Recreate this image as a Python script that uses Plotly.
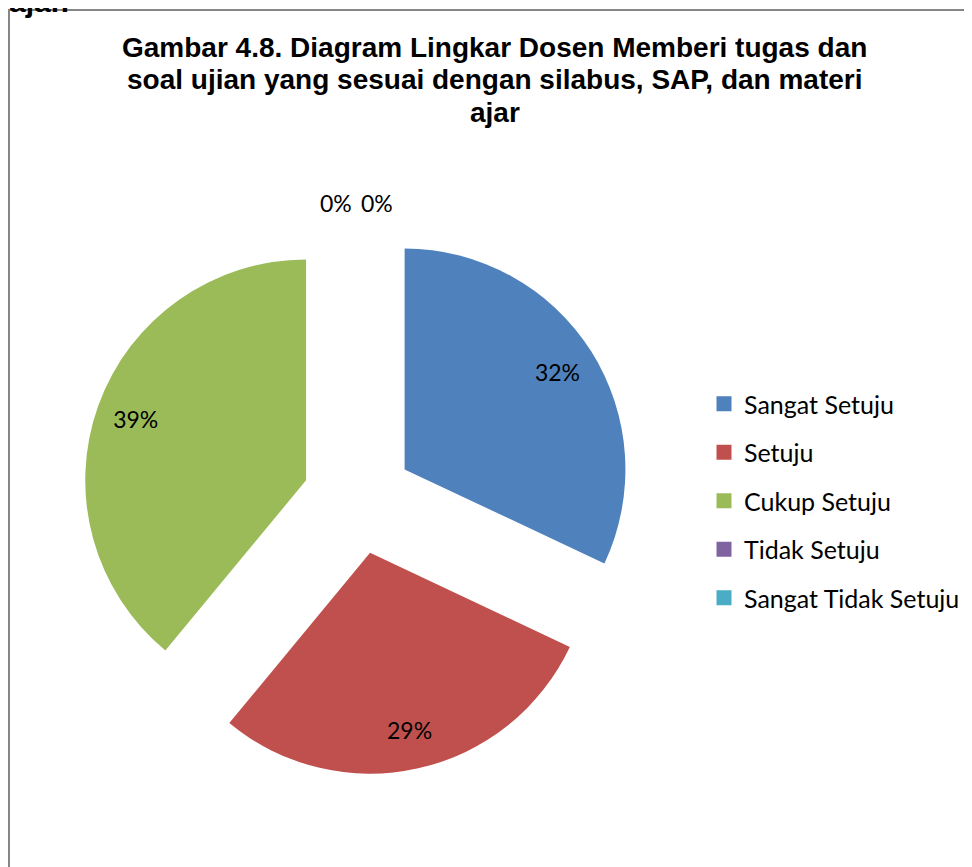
import plotly.graph_objects as go

categories = ["Sangat Setuju", "Setuju", "Cukup Setuju", "Tidak Setuju", "Sangat Tidak Setuju"]
values = [32, 29, 39, 0, 0]
colors = ["#4F81BD", "#C0504D", "#9BBB59", "#8064A2", "#4BACC6"]
title_lines = ["Gambar 4.8. Diagram Lingkar Dosen Memberi tugas dan",
               "soal ujian yang sesuai dengan silabus, SAP, dan materi",
               "ajar"]
above_text = "ajar."

W, H = 972, 867
OFF = 8  # page body margin of the browser


def px(x):
    return (x - OFF) / W


def py(y):
    return 1 - (y - OFF) / H


total = sum(values)
textpos = ["inside" if v > 0 else "none" for v in values]
pie_domain = dict(x=[px(82), px(634)], y=[py(775), py(223)])
pulls = [0.25] * len(values)

fig = go.Figure()
# coloured slices
fig.add_trace(go.Pie(
    labels=categories, values=values, sort=False, direction="clockwise", rotation=0,
    marker=dict(colors=colors, line=dict(width=0)),
    pull=pulls, textinfo="none", domain=pie_domain, showlegend=False, hoverinfo="label+percent",
))
# transparent ring overlay that carries the percentage labels near the rim
fig.add_trace(go.Pie(
    labels=categories, values=values, sort=False, direction="clockwise", rotation=0,
    marker=dict(colors=["rgba(0,0,0,0)"] * len(values), line=dict(width=0)),
    hole=0.64, pull=pulls,
    texttemplate="%{percent:.0%}", textposition=textpos, insidetextorientation="horizontal",
    textfont=dict(family="Lato", size=23, color="black"),
    domain=pie_domain, showlegend=False, hoverinfo="skip",
))

# legend entries as separate groups to get Excel-like spacing
for i, (c, col) in enumerate(zip(categories, colors)):
    fig.add_trace(go.Scatter(
        x=[None], y=[None], mode="markers", name=c, legendgroup=f"g{i}",
        marker=dict(symbol="square", size=15, color=col),
    ))

# zero-value labels
zero_idx = [i for i, v in enumerate(values) if v == 0]
for k, i in enumerate(zero_idx):
    fig.add_annotation(
        x=px(336 + 41 * k), y=py(203), xref="paper", yref="paper",
        xanchor="center", yanchor="middle",
        text=f"{round(100 * values[i] / total)}%", showarrow=False,
        font=dict(family="Lato", size=23, color="black"),
    )

# chart title, one line per annotation to get Excel's tighter line spacing
for j, line in enumerate(title_lines):
    fig.add_annotation(
        x=px(495), y=py(47 + 32.5 * j), xref="paper", yref="paper",
        xanchor="center", yanchor="middle", text=f"<b>{line}</b>", showarrow=False,
        font=dict(family="Liberation Sans", size=28, color="black"),
    )

# text from the document line above the chart (cut off at the top)
fig.add_annotation(x=px(7), y=py(20), xref="paper", yref="paper", xanchor="left", yanchor="bottom",
                   text=above_text, showarrow=False,
                   font=dict(family="Liberation Sans", size=30, color="black", weight="bold"))

# chart border
fig.add_shape(type="rect", xref="paper", yref="paper", x0=px(9), x1=1.05, y0=-0.05, y1=py(10),
              line=dict(color="#868686", width=2))

fig.update_layout(
    width=W, height=H, margin=dict(l=0, r=0, t=0, b=0, autoexpand=False),
    paper_bgcolor="white", plot_bgcolor="white",
    xaxis=dict(visible=False), yaxis=dict(visible=False),
    legend=dict(x=px(704), xanchor="left", y=py(501), yanchor="middle",
                font=dict(family="Lato", size=25, color="black"), tracegroupgap=13,
                bgcolor="rgba(0,0,0,0)"),
)

fig.write_html("out.html")
